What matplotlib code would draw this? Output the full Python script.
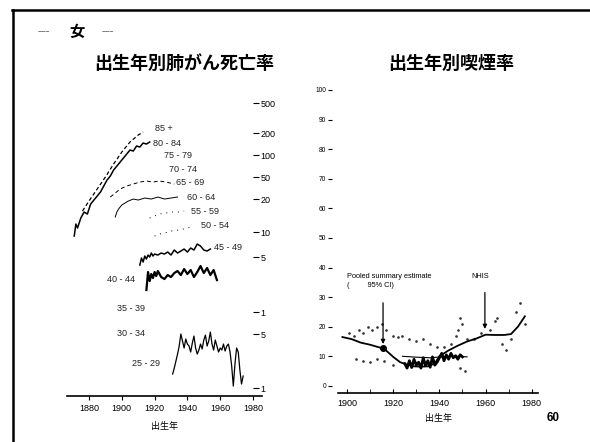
import matplotlib
matplotlib.use("Agg")
import matplotlib.pyplot as plt
from matplotlib.lines import Line2D

plt.rcParams['font.family'] = ['Liberation Sans', 'Noto Sans CJK JP']
JP = ['Noto Sans CJK JP', 'DejaVu Sans']

# ---- left panel: lung cancer death rate by birth cohort (stacked scales) ----
yr_8589 = [1876, 1880, 1885, 1890, 1895, 1900, 1905, 1910, 1913]
v_85 = [185, 195, 207, 219, 232, 244, 254, 261, 264]

yr_8084 = [1871, 1872, 1873, 1875, 1877, 1879, 1881, 1883, 1885, 1887, 1889, 1891,
           1893, 1895, 1897, 1899, 1901, 1903, 1905, 1907, 1909, 1911, 1913, 1915, 1917]
v_8084 = [160, 172, 168, 178, 184, 182, 192, 196, 200, 204, 210, 216,
          220, 226, 230, 234, 238, 242, 246, 245, 250, 249, 253, 252, 254]

yr_6569 = [1893, 1896, 1899, 1903, 1907, 1911, 1915, 1919, 1923, 1927, 1932]
v_6569 = [199, 203, 207, 210, 212, 214, 215, 214, 215, 214, 212]

yr_6064 = [1896, 1897, 1898, 1900, 1902, 1904, 1907, 1910, 1914, 1918, 1922, 1926, 1930, 1934]
v_6064 = [179, 184, 187, 191, 193, 195, 197, 196, 198, 197, 199, 197, 198, 199]

yr_5559 = [1917, 1920, 1923, 1927, 1931, 1935, 1938]
v_5559 = [178, 180, 182, 183, 184, 184, 185]

yr_5054 = [1920, 1923, 1926, 1930, 1935, 1940, 1944]
v_5054 = [160, 162, 163, 165, 166, 168, 170]

yr_4549 = [1911, 1912, 1913, 1914, 1915, 1916, 1917, 1918, 1919, 1920, 1922, 1924, 1926,
           1928, 1930, 1932, 1934, 1936, 1938, 1940, 1942, 1944, 1946, 1948, 1950, 1952, 1954]
v_4549 = [131, 138, 134, 140, 137, 141, 139, 143, 140, 142, 141, 143, 142,
          144, 141, 146, 143, 145, 147, 144, 148, 146, 152, 150, 146, 145, 147]

yr_4044 = [1915, 1916, 1917, 1918, 1919, 1920, 1921, 1922, 1924, 1926, 1928, 1930, 1932,
           1934, 1936, 1938, 1940, 1942, 1944, 1946, 1948, 1950, 1952, 1954, 1956, 1958]
v_4044 = [106, 124, 115, 122, 118, 124, 120, 125, 119, 117, 121, 119, 123,
          125, 121, 127, 122, 126, 119, 124, 130, 123, 128, 121, 126, 116]

yr_2529 = [1931, 1932, 1933, 1934, 1935, 1936, 1937, 1938, 1939, 1940, 1941, 1942, 1943, 1944,
           1945, 1946, 1947, 1948, 1949, 1950, 1951, 1952, 1953, 1954, 1955, 1956, 1957, 1958,
           1959, 1960, 1961, 1962, 1963, 1964, 1965, 1966, 1967, 1968, 1969, 1970, 1971, 1972,
           1973, 1974]
v_2529 = [22, 28, 35, 42, 50, 62, 55, 48, 57, 52, 50, 44, 53, 60,
          48, 42, 46, 52, 47, 56, 61, 50, 55, 64, 52, 46, 56, 50,
          44, 48, 46, 52, 45, 50, 52, 44, 30, 10, 32, 48, 44, 26,
          12, 20]

age_labels = ['85 +', '80 - 84', '75 - 79', '70 - 74', '65 - 69', '60 - 64', '55 - 59',
              '50 - 54', '45 - 49', '40 - 44', '35 - 39', '30 - 34', '25 - 29']
age_lab_x = [1920, 1919, 1926, 1929, 1933, 1940, 1942, 1948, 1956, 1891, 1897, 1897, 1906]
age_lab_y = [268, 253, 241, 227, 214, 199, 185, 171, 149, 117, 88, 63, 33]

left_ticks = [293, 263, 241, 219, 197, 164, 139, 84, 62, 8]
left_tick_labels = ['500', '200', '100', '50', '20', '10', '5', '1', '5', '1']
left_xticks = [1880, 1900, 1920, 1940, 1960, 1980]

# ---- right panel: smoking rate by birth cohort ----
main_yr = [1898, 1902, 1906, 1910, 1914, 1916, 1918, 1920, 1923, 1926, 1929, 1932, 1935,
           1938, 1940, 1944, 1948, 1952, 1956, 1960, 1964, 1968, 1971, 1974, 1977]
main_val = [16.5, 15.8, 14.6, 13.9, 13.0, 12.6, 11.2, 9.8, 8.0, 7.2, 6.6, 6.5, 6.6,
            7.6, 10.0, 12.0, 13.6, 15.0, 16.0, 17.3, 17.2, 17.2, 17.5, 20.0, 23.5]

flat_yr = [1924, 1930, 1936, 1942, 1948, 1952]
flat_val = [10.0, 9.7, 9.5, 9.9, 10.0, 9.8]

clus_yr = [1925, 1926, 1927, 1928, 1929, 1930, 1931, 1932, 1933, 1934, 1935, 1936, 1937,
           1938, 1939, 1940, 1941, 1942, 1943, 1944, 1945, 1946, 1947, 1948, 1949, 1950]
clus_val = [7.5, 6.0, 8.5, 6.2, 9.0, 7.0, 8.0, 6.0, 9.5, 6.8, 8.5, 6.3, 9.8, 7.0,
            8.0, 9.5, 11.0, 8.5, 10.5, 9.0, 11.0, 9.5, 10.2, 9.0, 10.5, 9.8]

dot_yr = [1901, 1903, 1905, 1907, 1909, 1911, 1913, 1915, 1917, 1920, 1922, 1924, 1927, 1930,
          1933, 1936, 1939, 1942, 1945, 1947, 1948, 1949, 1950, 1952, 1955, 1958, 1962, 1964,
          1965, 1967, 1969, 1971, 1973, 1975, 1977]
dot_val = [18, 17, 19, 18, 20, 19, 20, 21, 19, 17, 16.5, 17, 16, 15,
           16, 14, 13, 13, 14, 17, 19, 23, 21, 16, 16, 18, 19, 22,
           23, 14, 12, 16, 25, 28, 21]

low_yr = [1904, 1907, 1910, 1913, 1916, 1920, 1949, 1951]
low_val = [9, 8.5, 8, 9, 8.5, 7, 6, 5]

right_yticks = [0, 10, 20, 30, 40, 50, 60, 70, 80, 90, 100]
right_xticks = [1900, 1920, 1940, 1960, 1980]

fig = plt.figure(figsize=(5.9, 4.42), dpi=100)

# slide frame
fig.add_artist(Line2D([0.02, 1.0], [0.977, 0.977], color='black', lw=1.8))
fig.add_artist(Line2D([0.022, 0.022], [0.0, 0.977], color='black', lw=1.8))

fig.text(0.075, 0.927, '~~~', fontsize=5, ha='center', va='center')
fig.text(0.131, 0.927, '女', fontsize=11, fontweight='bold', family=JP, ha='center', va='center')
fig.text(0.183, 0.927, '~~~', fontsize=5, ha='center', va='center')
fig.text(0.312, 0.857, '出生年別肺がん死亡率', fontsize=13, fontweight='bold', family=JP,
         ha='center', va='center')
fig.text(0.764, 0.857, '出生年別喫煙率', fontsize=13, fontweight='bold', family=JP,
         ha='center', va='center')
fig.text(0.937, 0.054, '60', fontsize=8.5, fontweight='bold', ha='center', va='center')

# left panel
ax1 = fig.add_axes([0.1136, 0.104, 0.3305, 0.681])
ax1.plot(yr_8589, v_85, color='black', lw=0.9, ls=(0, (3, 2)))
ax1.plot(yr_8084, v_8084, color='black', lw=1.1)
ax1.plot(yr_6569, v_6569, color='black', lw=0.7, ls=(0, (4, 3)))
ax1.plot(yr_6064, v_6064, color='black', lw=0.7)
ax1.plot(yr_5559, v_5559, color='black', lw=0.7, ls=(0, (1, 5)))
ax1.plot(yr_5054, v_5054, color='black', lw=0.7, ls=(0, (1, 5)))
ax1.plot(yr_4549, v_4549, color='black', lw=1.1)
ax1.plot(yr_4044, v_4044, color='black', lw=1.6)
ax1.plot(yr_2529, v_2529, color='black', lw=0.9)
for lab, x, y in zip(age_labels, age_lab_x, age_lab_y):
    ax1.text(x, y, lab, fontsize=6.5, ha='left', va='center', color='#222222')

ax1.set_xlim(1866.6, 1985.5)
ax1.set_ylim(0, 301)
ax1.set_xticks(left_xticks)
ax1.tick_params(axis='x', direction='out', length=3, labelsize=6.5, pad=3)
ax1.yaxis.tick_right()
ax1.spines['right'].set_position(('axes', 0.955))
ax1.spines['right'].set_visible(False)
ax1.set_yticks(left_ticks)
ax1.set_yticklabels(left_tick_labels)
ax1.tick_params(axis='y', direction='out', length=4, labelsize=6.5, pad=1)
for s in ['top', 'left']:
    ax1.spines[s].set_visible(False)
ax1.spines['bottom'].set_linewidth(1.2)
ax1.set_xlabel('出生年', family=JP, fontsize=6.5, labelpad=6)

# right panel
ax2 = fig.add_axes([0.5729, 0.1109, 0.339, 0.699])
ax2.plot(dot_yr, dot_val, ls='none', marker='.', ms=1.8, color='#333333')
ax2.plot(low_yr, low_val, ls='none', marker='.', ms=1.8, color='#333333')
ax2.plot(flat_yr, flat_val, color='black', lw=0.8)
ax2.plot(clus_yr, clus_val, color='black', lw=2.0)
ax2.plot(main_yr, main_val, color='black', lw=1.3)
ax2.plot([1915.5], [12.8], marker='o', ms=4, color='black')

ax2.text(1900, 37, 'Pooled summary estimate', fontsize=5.3, ha='left', va='center')
ax2.text(1900, 34, '(         95% CI)', fontsize=5.3, ha='left', va='center')
ax2.annotate('', xy=(1915.6, 13.2), xytext=(1915.6, 29),
             arrowprops=dict(arrowstyle='-|>', color='black', lw=0.9, mutation_scale=6))
ax2.text(1957.5, 37, 'NHIS', fontsize=5.3, ha='center', va='center')
ax2.annotate('', xy=(1959.7, 18.3), xytext=(1959.7, 32.5),
             arrowprops=dict(arrowstyle='-|>', color='black', lw=0.9, mutation_scale=6))

ax2.set_xlim(1896.1, 1982.7)
ax2.set_ylim(-2.4, 102)
ax2.set_xticks(right_xticks)
ax2.set_xticks(list(range(1900, 1981, 10)), minor=True)
ax2.tick_params(axis='x', which='both', direction='in', length=3, labelsize=6.5, pad=4)
ax2.set_yticks(right_yticks)
ax2.tick_params(axis='y', direction='out', length=3, labelsize=4.8, pad=1.5)
ax2.spines['left'].set_position(('outward', 4))
for s in ['top', 'right', 'left']:
    ax2.spines[s].set_visible(False)
ax2.spines['bottom'].set_linewidth(1.2)
ax2.set_xlabel('出生年', family=JP, fontsize=6.5, labelpad=5)

fig.savefig('out.png', dpi=100)
